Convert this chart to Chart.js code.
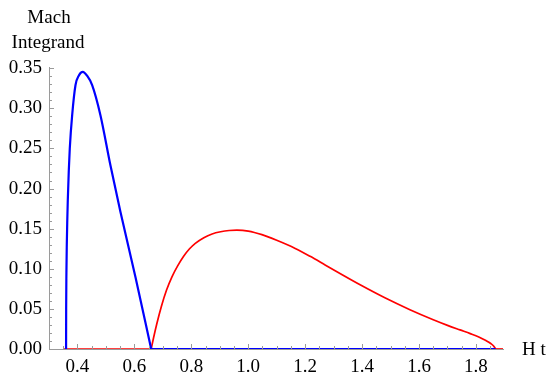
<!DOCTYPE html>
<html>
<head>
<meta charset="utf-8">
<script src="https://cdn.jsdelivr.net/npm/chart.js@4"></script>
<style>
  html, body { margin: 0; padding: 0; background: #fff; }
  #wrap { width: 550px; height: 383px; position: relative; }
</style>
</head>
<body>
<div id="wrap"><canvas id="machChart"></canvas></div>
<script>
// values
const blueX = [0.3600, 0.3603, 0.3612, 0.3625, 0.3642, 0.366, 0.3695, 0.373, 0.3814, 0.393, 0.405, 0.4186, 0.435, 0.4516, 0.4807, 0.5158, 0.5509, 0.6035, 0.659];
const blueY = [0, 0.05, 0.095, 0.13, 0.16, 0.185, 0.222, 0.25, 0.2915, 0.3288, 0.341, 0.3454, 0.340, 0.329, 0.2915, 0.229, 0.171, 0.09, 0];
const blueBaseX = [0.659, 1.869];

const redX = [0.659, 0.667, 0.679, 0.695, 0.713, 0.732, 0.752, 0.773, 0.793, 0.814, 0.844, 0.873, 0.903, 0.933, 0.96, 1.0, 1.048, 1.10, 1.165, 1.2175, 1.27, 1.33, 1.393, 1.48, 1.568, 1.65, 1.70, 1.744, 1.78, 1.81, 1.835, 1.852, 1.862, 1.869];
const redY = [0, 0.0134, 0.0318, 0.0534, 0.0735, 0.09, 0.1036, 0.1156, 0.1246, 0.1317, 0.1388, 0.1434, 0.1461, 0.1477, 0.1482, 0.147, 0.1425, 0.1355, 0.1254, 0.1155, 0.1048, 0.0925, 0.08, 0.0638, 0.049, 0.0365, 0.0295, 0.0238, 0.0192, 0.015, 0.0105, 0.0068, 0.0038, 0];
const redBaseLeftX = [0.352, 0.659];
const redBaseRightX = [1.869, 1.896];

const xTicks = [0.4, 0.6, 0.8, 1.0, 1.2, 1.4, 1.6, 1.8];
const yTicks = [0, 0.05, 0.1, 0.15, 0.2, 0.25, 0.3, 0.35];

const axisGray = "#9a9a9a";
const serif = "'Liberation Serif', 'DejaVu Serif', serif";

function toPoints(xs, ys) {
  return xs.map((x, i) => ({ x: x, y: ys ? ys[i] : 0 }));
}

function curve(points, color, width, order) {
  return {
    data: points,
    showLine: true,
    borderColor: color,
    borderWidth: width,
    pointRadius: 0,
    cubicInterpolationMode: "monotone",
    order: order
  };
}

// small inward tick marks like the original, plus the axis captions
const extras = {
  id: "extras",
  afterDraw(chart) {
    const ctx = chart.ctx;
    const xs = chart.scales.x;
    const ys = chart.scales.y;
    const area = chart.chartArea;
    ctx.save();
    ctx.strokeStyle = axisGray;
    ctx.lineWidth = 1;
    ctx.beginPath();
    for (let i = 7; i <= 37; i++) {
      const px = Math.round(xs.getPixelForValue(i * 0.05)) + 0.5;
      const len = i % 4 === 0 ? 5 : 3;
      ctx.moveTo(px, area.bottom);
      ctx.lineTo(px, area.bottom - len);
    }
    for (let i = 0; i <= 35; i++) {
      const py = Math.round(ys.getPixelForValue(i * 0.01)) + 0.5;
      const len = i % 5 === 0 ? 5 : 3;
      ctx.moveTo(area.left, py);
      ctx.lineTo(area.left + len, py);
    }
    ctx.stroke();

    ctx.fillStyle = "#000";
    ctx.font = "19px " + serif;
    ctx.textAlign = "center";
    ctx.textBaseline = "alphabetic";
    ctx.fillText("Mach", 49, 23);
    ctx.fillText("Integrand", 48, 48);
    ctx.textAlign = "left";
    ctx.fillText("H t", 522, 355);
    ctx.restore();
  }
};

new Chart("machChart", {
  type: "scatter",
  data: {
    datasets: [
      curve(toPoints(blueX, blueY), "#0000ff", 2.2, 0),
      curve(toPoints(blueBaseX), "#0000ff", 2.2, 0),
      curve(toPoints(redX, redY), "#ff0000", 1.7, 1),
      curve(toPoints(redBaseLeftX), "#ff0000", 1.7, 1),
      curve(toPoints(redBaseRightX), "#ff0000", 1.7, 1)
    ]
  },
  options: {
    responsive: true,
    maintainAspectRatio: false,
    animation: false,
    layout: { padding: { top: 67, right: 47, left: 0, bottom: 0 } },
    plugins: {
      legend: { display: false },
      tooltip: { enabled: false }
    },
    scales: {
      x: {
        type: "linear",
        min: 0.3,
        max: 1.895,
        afterBuildTicks: (scale) => {
          scale.ticks = xTicks.map((v) => ({ value: v }));
        },
        afterFit: (scale) => { scale.height = 34; },
        grid: { display: false, drawTicks: false },
        border: { display: true, color: axisGray, width: 1 },
        ticks: {
          color: "#000",
          padding: 7,
          maxRotation: 0,
          font: { family: serif, size: 19 },
          callback: (v) => v.toFixed(1)
        }
      },
      y: {
        type: "linear",
        min: 0,
        max: 0.3515,
        afterBuildTicks: (scale) => {
          scale.ticks = yTicks.map((v) => ({ value: v }));
        },
        afterFit: (scale) => { scale.width = 49; },
        grid: { display: false, drawTicks: false },
        border: { display: true, color: axisGray, width: 1 },
        ticks: {
          color: "#000",
          padding: 7,
          font: { family: serif, size: 19 },
          callback: (v) => v.toFixed(2)
        }
      }
    }
  },
  plugins: [extras]
});
</script>
</body>
</html>
